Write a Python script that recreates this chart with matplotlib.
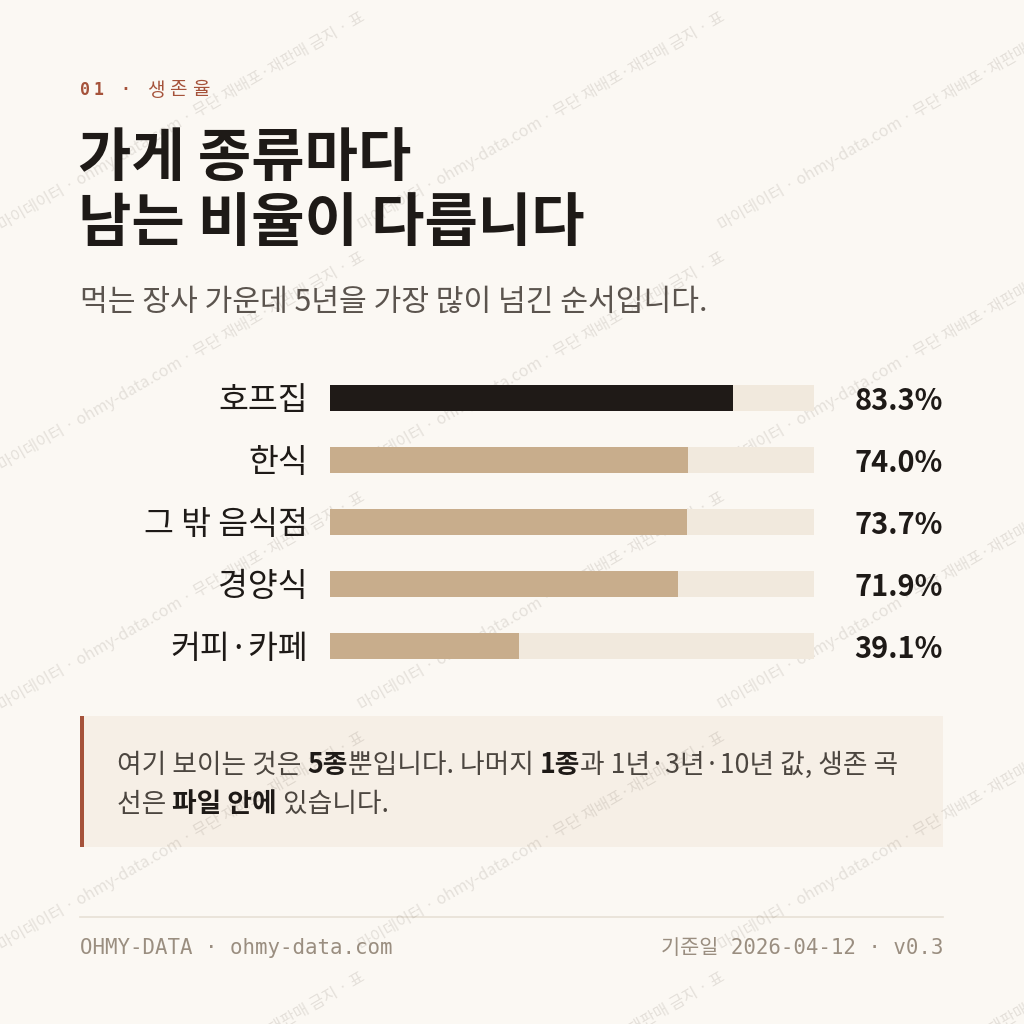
import matplotlib
matplotlib.use("Agg")
import matplotlib.pyplot as plt
from matplotlib.patches import Rectangle

# ---------------- data ----------------
categories = ["호프집", "한식", "그 밖 음식점", "경양식", "커피·카페"]
survival_5y = [83.3, 74.0, 73.7, 71.9, 39.1]
highlight = [True, False, False, False, False]

kicker = "01 · 생존율"
title_lines = ["가게 종류마다", "남는 비율이 다릅니다"]
subtitle = "먹는 장사 가운데 5년을 가장 많이 넘긴 순서입니다."
note_lines = [
    [("여기 보이는 것은 ", False), ("5종", True), ("뿐입니다. 나머지 ", False),
     ("1종", True), ("과 1년·3년·10년 값, 생존 곡", False)],
    [("선은 ", False), ("파일 안에", True), (" 있습니다.", False)],
]
footer_left = "OHMY-DATA · ohmy-data.com"
footer_right = "기준일 2026-04-12 · v0.3"
watermark = "마이데이터 · ohmy-data.com · 무단 재배포·재판매 금지 · 표"

# ---------------- style ----------------
BG = "#fbf8f3"
INK = "#1e1a17"
SUB = "#5b544e"
TRACK = "#f1e9dd"
TAN = "#c8ad8c"
DARK = "#1f1a17"
RUST = "#a5523a"
BOX = "#f6efe6"
FOOT = "#9a8e80"
RULE = "#e7e0d6"

CJK = ["Noto Sans CJK KR", "DejaVu Sans"]
MONO = ["DejaVu Sans Mono", "Noto Sans CJK KR"]
PX = 0.72  # points per pixel at dpi 100

W = H = 1024
fig = plt.figure(figsize=(W / 100, H / 100), dpi=100, facecolor=BG)
bg = fig.add_axes([0, 0, 1, 1])
bg.set_xlim(0, W)
bg.set_ylim(H, 0)
bg.axis("off")
bg.set_facecolor(BG)

renderer = fig.canvas.get_renderer()


def text_width(s, **kw):
    """Width in pixels of string s (including spaces) using a sentinel."""
    t1 = bg.text(0, 0, s + "|", **kw)
    t2 = bg.text(0, 0, "|", **kw)
    w = t1.get_window_extent(renderer).width - t2.get_window_extent(renderer).width
    t1.remove()
    t2.remove()
    return w


# ---------------- watermark (tiled) ----------------
tw, th = 360, 240
for r in range(5):
    for c in range(3):
        x0, y0 = c * tw, r * th
        bg.text(x0 + tw / 2 + 2, y0 + th / 2 + 2, watermark, rotation=30,
                rotation_mode="anchor", ha="center", va="center",
                fontsize=16 * PX, family=CJK, color=(0.25, 0.2, 0.15, 0.12),
                zorder=3)

# ---------------- kicker ----------------
x = 80
for ch in kicker:
    is_hangul = "\uac00" <= ch <= "\ud7a3"
    kw = dict(fontsize=(19 if is_hangul else 16.5) * PX, family=MONO, color=RUST,
              fontweight="bold" if not is_hangul else "normal", va="center", ha="left")
    if ch != " ":
        bg.text(x, 90, ch, **kw)
    x += text_width(ch, **kw) + (5 if is_hangul else 3.5)

# ---------------- title & subtitle ----------------
for i, line in enumerate(title_lines):
    bg.text(78, 159 + i * 65, line, fontsize=58 * PX, fontweight="bold", family=CJK,
            color=INK, ha="left", va="center")
bg.text(80, 302, subtitle, fontsize=30.2 * PX, family=CJK, color=SUB,
        ha="left", va="center")

# ---------------- bars ----------------
top, bottom = 367, 677
ax = fig.add_axes([330 / W, 1 - bottom / H, 484 / W, (bottom - top) / H])
ax.set_facecolor("none")
ax.patch.set_alpha(0)
ax.set_xlim(0, 100)
ax.set_ylim(len(categories) - 0.5, -0.5)
ax.axis("off")
ypos = list(range(len(categories)))
bh = 26 / 62
ax.barh(ypos, [100] * len(categories), height=bh, color=TRACK, zorder=1)
ax.barh(ypos, survival_5y, height=bh,
        color=[DARK if h else TAN for h in highlight], zorder=2)
for yi, cat, v in zip(ypos, categories, survival_5y):
    ax.annotate(cat, xy=(0, yi), xytext=(-22 * PX, -3 * PX), textcoords="offset points",
                ha="right", va="center", fontsize=32.5 * PX, family=CJK, color=INK,
                annotation_clip=False)
    ax.annotate(f"{v:.1f}%", xy=(100, yi), xytext=(129 * PX, -3 * PX),
                textcoords="offset points", ha="right", va="center",
                fontsize=29 * PX, family=CJK, fontweight="bold", color=INK,
                annotation_clip=False)

# ---------------- note box ----------------
bg.add_patch(Rectangle((80, 716), 863, 131, facecolor=BOX, edgecolor="none", zorder=1))
bg.add_patch(Rectangle((80, 716), 3.5, 131, facecolor=RUST, edgecolor="none", zorder=2))
for li, runs in enumerate(note_lines):
    x = 117
    yb = 773 + li * 39
    for s, bold in runs:
        kw = dict(fontsize=26.8 * PX, family=CJK, ha="left", va="baseline",
                  color=INK if bold else "#4c4640",
                  fontweight="bold" if bold else "normal", zorder=4)
        bg.text(x, yb, s, **kw)
        x += text_width(s, **kw)

# ---------------- footer ----------------
bg.plot([80, 943], [917, 917], color=RULE, lw=1.2, zorder=2)
bg.text(80, 948, footer_left, fontsize=20.8 * PX, family=MONO, color=FOOT,
        ha="left", va="center", zorder=4)
bg.text(943, 948, footer_right, fontsize=20.8 * PX, family=MONO, color=FOOT,
        ha="right", va="center", zorder=4)

fig.savefig("out.png", dpi=100, facecolor=BG)
